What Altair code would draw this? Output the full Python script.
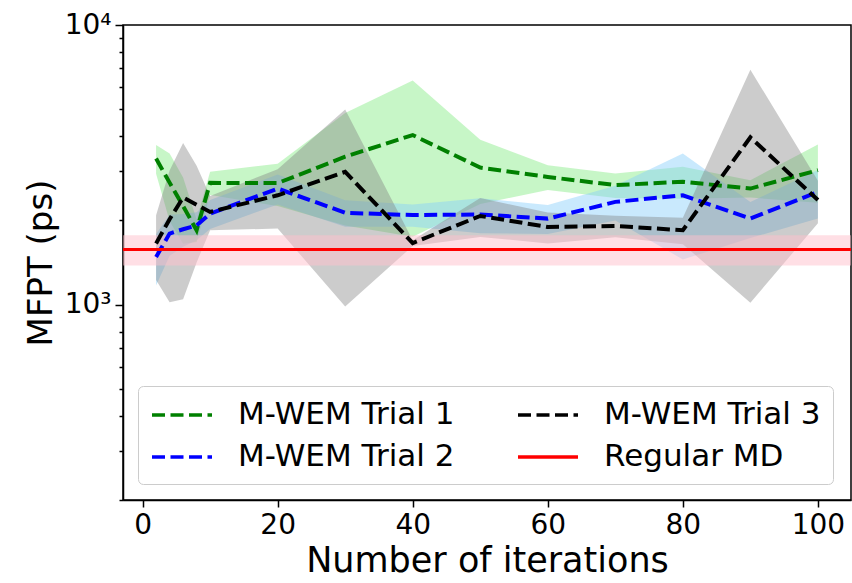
import altair as alt
import pandas as pd

iterations = [2, 4, 6, 8, 10, 20, 30, 40, 50, 60, 70, 80, 90, 100]

trial1_mean = [3330, 2730, 2250, 1845, 2725, 2720, 3380, 4040, 3090, 2860, 2675, 2750, 2600, 3025]
trial1_std = [390, 740, 600, 170, 260, 470, 1460, 2290, 800, 290, 270, 360, 185, 710]

trial2_mean = [1480, 1795, 1860, 1920, 2115, 2600, 2130, 2090, 2100, 2030, 2330, 2460, 2030, 2530]
trial2_std = [310, 300, 250, 220, 250, 320, 230, 190, 300, 240, 330, 1010, 300, 500]

trial3_mean = [1655, 2020, 2415, 2275, 2145, 2460, 2985, 1660, 2075, 1895, 1910, 1845, 3965, 2365]
trial3_std = [430, 1000, 1370, 860, 300, 590, 2000, 40, 330, 240, 170, 200, 2950, 410]

md_mean = 1575
md_std = 195

series_names = ["M-WEM Trial 1", "M-WEM Trial 2", "M-WEM Trial 3", "Regular MD"]
line_colors = ["#008000", "#0000ff", "#000000", "#ff0000"]
band_colors = {"M-WEM Trial 1": "#90ee90", "M-WEM Trial 2": "#87cefa", "M-WEM Trial 3": "#808080"}
band_opacity = {"M-WEM Trial 1": 0.5, "M-WEM Trial 2": 0.45, "M-WEM Trial 3": 0.4}

x_ticks = [0, 20, 40, 60, 80, 100]
y_ticks = [200, 300, 400, 500, 600, 700, 800, 900,
           1000, 2000, 3000, 4000, 5000, 6000, 7000, 8000, 9000, 10000]

rows = []
for name, m, s in [("M-WEM Trial 1", trial1_mean, trial1_std),
                   ("M-WEM Trial 2", trial2_mean, trial2_std),
                   ("M-WEM Trial 3", trial3_mean, trial3_std)]:
    for it, mv, sv in zip(iterations, m, s):
        rows.append({"iteration": it, "mfpt": mv, "lo": mv - sv, "hi": mv + sv, "series": name})
df = pd.DataFrame(rows)
md_df = pd.DataFrame({"mfpt": [md_mean], "lo": [md_mean - md_std], "hi": [md_mean + md_std],
                      "series": ["Regular MD"]})

FONT = "DejaVu Sans"

xscale = alt.Scale(domain=[-2.9, 104.9], nice=False, zero=False)
yscale = alt.Scale(type="log", domain=[200, 10000], nice=False)

xenc = alt.X("iteration:Q", scale=xscale,
             axis=alt.Axis(values=x_ticks, title="Number of iterations", grid=False,
                           labelFontSize=28, titleFontSize=35, tickSize=7, labelPadding=4,
                           titlePadding=4, labelFlush=False, format="d"))
yaxis = alt.Axis(values=y_ticks, title="MFPT (ps)", grid=False,
                 labelExpr="datum.value == 1000 ? '10³' : datum.value == 10000 ? '10⁴' : ''",
                 tickSize={"condition": {"test": "datum.value == 1000 || datum.value == 10000", "value": 8}, "value": 4},
                 labelFontSize=28, titleFontSize=34, labelPadding=4, titlePadding=6,
                 labelFlush=False)

bands = []
for name in ["M-WEM Trial 1", "M-WEM Trial 2", "M-WEM Trial 3"]:
    bands.append(
        alt.Chart(df[df.series == name]).mark_area(color=band_colors[name], opacity=band_opacity[name])
        .encode(x=xenc, y=alt.Y("lo:Q", scale=yscale, axis=yaxis), y2="hi:Q")
    )

md_band = alt.Chart(md_df).mark_rect(color="#ffc0cb", opacity=0.5).encode(
    y=alt.Y("lo:Q", scale=yscale, axis=yaxis), y2="hi:Q")

color_scale = alt.Scale(domain=series_names, range=line_colors)
dash_scale = alt.Scale(domain=series_names, range=[[13, 5.5], [13, 5.5], [13, 5.5], [1, 0]])
legend = alt.Legend(title=None, orient="none", legendX=15, legendY=361, columns=2,
                    values=series_names,
                    symbolType="M-1,0L3,0", symbolSize=900, symbolStrokeWidth=3.5,
                    labelFontSize=31, labelFont=FONT, columnPadding=56, rowPadding=10,
                    labelOffset=54, padding=12, strokeColor="#cccccc", cornerRadius=5,
                    fillColor="rgba(255,255,255,0.8)", labelLimit=400)

lines = alt.Chart(df).mark_line(strokeWidth=4).encode(
    x=xenc,
    y=alt.Y("mfpt:Q", scale=yscale, axis=yaxis),
    color=alt.Color("series:N", scale=color_scale, legend=legend),
    strokeDash=alt.StrokeDash("series:N", scale=dash_scale, legend=legend),
    detail="series:N",
)

md_line = alt.Chart(md_df).mark_rule(strokeWidth=3).encode(
    y=alt.Y("mfpt:Q", scale=yscale, axis=yaxis),
    color=alt.Color("series:N", scale=color_scale, legend=legend),
    strokeDash=alt.StrokeDash("series:N", scale=dash_scale, legend=legend),
)

chart = alt.layer(*bands, md_band, lines, md_line).properties(
    width=728, height=475,
    autosize=alt.AutoSizeParams(type="none"),
    padding={"left": 123, "top": 25, "right": 1, "bottom": 83},
).configure(font=FONT).configure_view(
    stroke="black", strokeWidth=1.5
).configure_axis(
    domainColor="black", domainWidth=1.5, tickColor="black", tickWidth=1.5,
    labelColor="black", titleColor="black", labelFont=FONT, titleFont=FONT,
    titleFontWeight="normal"
)

chart.save("out.html", embed_options={"renderer": "svg", "actions": False})
